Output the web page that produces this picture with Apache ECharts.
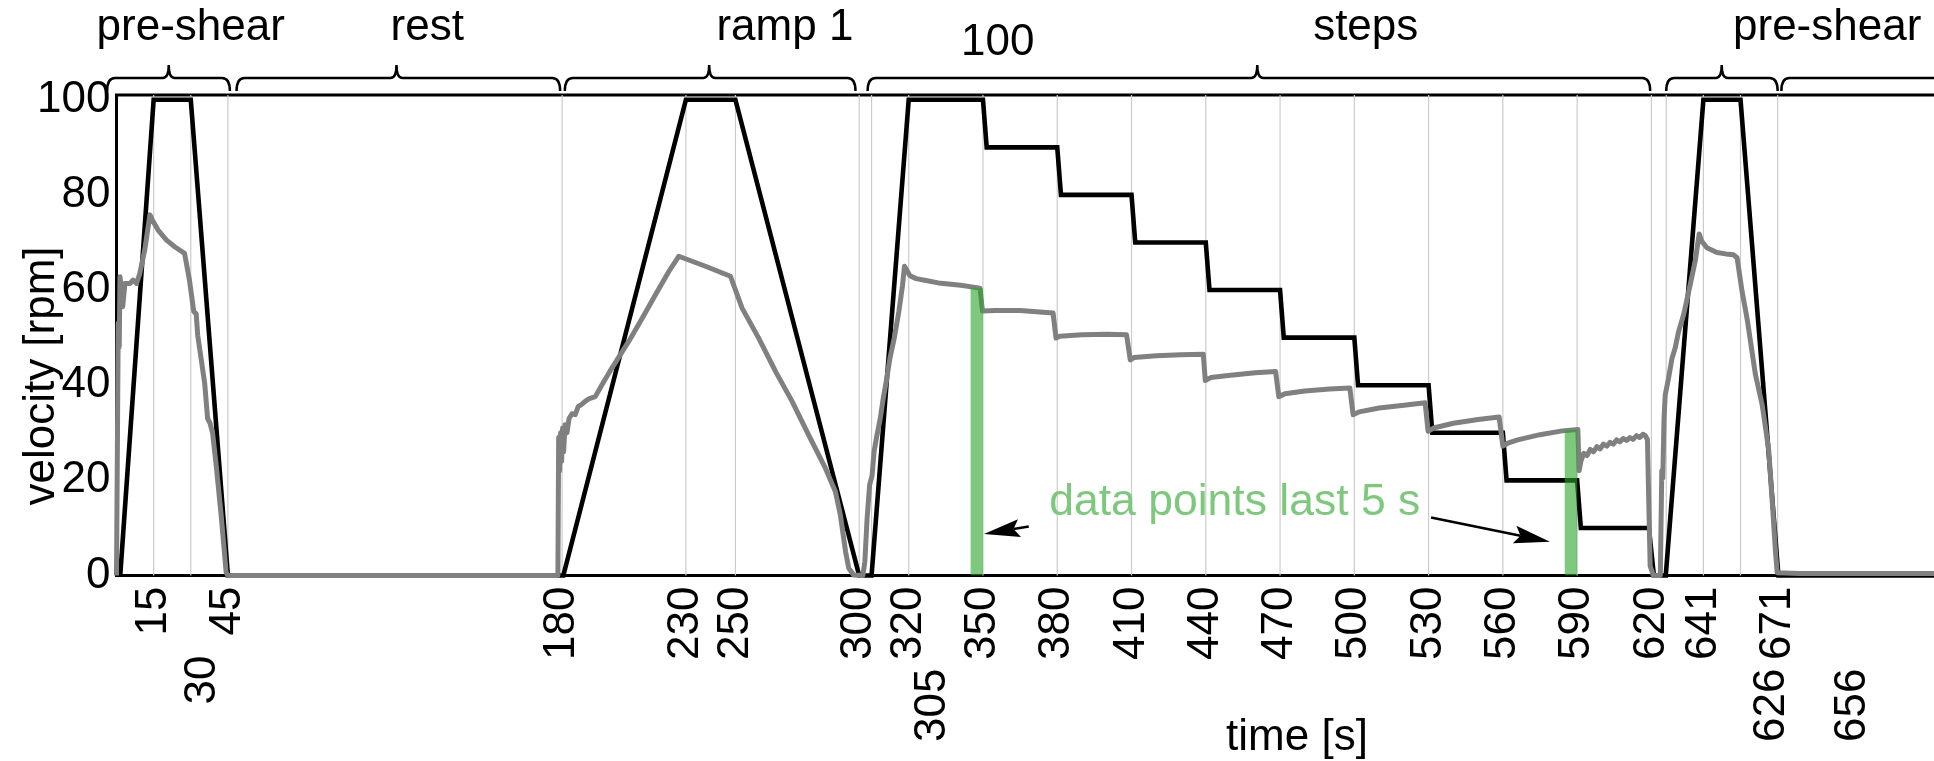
<!DOCTYPE html>
<html>
<head>
<meta charset="utf-8">
<script src="https://cdn.jsdelivr.net/npm/echarts@6/dist/echarts.min.js"></script>
<style>
  html, body { margin: 0; padding: 0; background: #fff; }
  #chart { width: 1934px; height: 761px; }
</style>
</head>
<body>
<div id="chart"></div>
<script>
// ---- data -------------------------------------------------------------
// time [s] / velocity [rpm]
const setpoint = [
  [1.5, 0], [15, 100], [30, 100], [45, 0],
  [180.5, 0], [230, 100], [250, 100], [300, 0],
  [305, 0], [320, 100], [350, 100], [351.5, 90], [380, 90], [381.5, 80],
  [410, 80], [411.5, 70], [440, 70], [441.5, 60], [470, 60], [471.5, 50],
  [500, 50], [501.5, 40], [530, 40], [531.5, 30], [560, 30], [561.5, 20],
  [590, 20], [591.5, 10], [619, 10], [621, 0],
  [625.8, 0], [641, 100], [656, 100], [671.3, 0], [739, 0]
];

const measured = [
  // pre-shear
  [0, 0], [0.4, 30], [0.7, 53], [1.1, 48], [1.4, 62.8], [2.0, 60.5], [2.5, 56.5],
  [3.4, 61.4], [5.4, 61.4], [6.7, 62.1], [8.1, 61.4], [9.4, 63.5], [11.4, 68.4],
  [13.5, 75.8], [14.8, 74.4], [16.8, 72.6], [20.2, 70.5], [23.5, 69.1],
  [27.5, 67.7], [28.3, 67.3], [29.5, 62], [31.2, 55.5], [32.2, 55], [32.8, 50.5],
  [35.6, 40.5], [36.8, 33], [37.8, 32], [38.8, 30], [40.3, 23], [42.3, 12.5],
  [44.3, 0.6], [45, 0],
  // rest
  [178.3, 0],
  // ramp 1
  [178.6, 29], [179.0, 22], [179.4, 30], [179.8, 24], [180.2, 31], [180.6, 26],
  [181.2, 31.7], [182, 30], [182.8, 33], [184, 34], [185.3, 33.8], [186.5, 35.5],
  [188, 36], [189.3, 36.6], [191, 37.2], [193.4, 37.6], [196.1, 40.1],
  [200.1, 43.6], [206.9, 49.2], [212.3, 54], [217.7, 59], [223.1, 63.9],
  [227.1, 67.1], [237.9, 65], [248, 62.9], [252.7, 56.2], [259.4, 49.9],
  [266.2, 42.9], [272.9, 36.6], [279.6, 29.5], [286.4, 22.5], [290.4, 17.6],
  [292.4, 12.7], [294.5, 5], [295.8, 1.5], [297.8, 0.1], [301.5, 0],
  // steps
  [302.3, 3], [303.2, 12], [304.2, 19], [305.2, 21], [306, 26], [307, 29],
  [308.5, 33], [309.7, 37.2], [311, 41], [312.4, 45.6], [314.2, 50], [316, 55.4],
  [317.5, 61], [318.3, 65], [319.2, 64.2], [320.5, 63], [323, 62.4], [327, 62],
  [332, 61.5], [341, 61], [348.8, 60.4], [349.8, 55.6], [355, 55.7], [365, 55.7],
  [378.3, 55.2], [379.5, 49.9], [381, 50.3], [390, 50.6], [400, 50.7],
  [408, 50.6], [409.5, 45.3], [411, 45.8], [420, 46.2], [430, 46.4], [439, 46.5],
  [439.8, 41], [442, 41.6], [450, 42.1], [460, 42.6], [468.2, 42.9],
  [469.5, 37.6], [472, 38.2], [480, 38.8], [490, 39.2], [498.2, 39.4],
  [499.5, 33.8], [502, 34.4], [510, 35.2], [520, 35.8], [528.6, 36.3],
  [529.8, 30.3], [532, 31], [540, 32], [550, 32.8], [558.5, 33.3],
  [560, 27.2], [562, 27.8], [566, 28.5], [575, 29.6], [584, 30.4], [590.3, 30.7],
  [590.8, 22], [591.5, 24], [592.7, 25.7], [594, 25.2], [595.3, 26.5],
  [596.6, 26], [598, 27.1], [599.3, 26.6], [600.6, 27.6], [602, 27.2],
  [603.3, 28], [604.6, 27.6], [606, 28.5], [607.3, 28.1], [608.6, 28.8],
  [610, 28.4], [611.3, 29], [612.6, 28.6], [614, 29.4], [615.3, 29],
  [616.6, 29.7], [617.5, 29.4], [618.4, 28.6], [619.5, 2], [620.8, 0], [623.6, 0],
  // pre-shear
  [624.2, 22], [624.6, 20.5], [625.1, 33], [625.6, 38], [626.9, 41.4],
  [628.3, 45.6], [629.6, 47.8], [631, 51.3], [633, 54.8], [635.7, 61.2],
  [637.7, 66.1], [639.3, 71.8], [640.3, 70.3], [642.4, 68.9], [646.5, 67.9],
  [650, 67.6], [653.2, 67.4], [654.6, 66.8], [656.6, 59.8], [658.3, 55],
  [658.8, 53.5], [660, 49.3], [662, 42.3], [664.7, 36], [666.1, 31.1],
  [667.4, 26.2], [668.8, 15.7], [670.1, 5.2], [670.8, 0.6], [680, 0.4], [739, 0.4]
];

// last 5 s of the 100 rpm and 20 rpm steps
const window100 = [[345, 60.6], [347.5, 60.5], [350, 60.4]];
const window20 = [[585, 30.4], [587.5, 30.6], [590, 30.7]];

// axis ticks
const yTicks = [0, 20, 40, 60, 80, 100];
const xTicksUpper = [15, 45, 180, 230, 250, 300, 320, 350, 380, 410, 440, 470,
                     500, 530, 560, 590, 620, 641, 671];
const xTicksLower = [30, 305, 626, 656];
const gridTimes = [15, 30, 45, 180, 230, 250, 300, 305, 320, 350, 380, 410, 440,
                   470, 500, 530, 560, 590, 620, 626, 641, 656, 671];

// protocol phases (braces along the top)
const braceStart = [-3.8, 48.5, 181.1, 303.4, 626, 672.5];
const braceEnd   = [45.8, 179.2, 298.5, 619.5, 671, 820];
const braceTip   = [21.1, 113.1, 239.4, 460.8, 648.4, 746];
const phaseNames = ['pre-shear', 'rest', 'ramp 1', '100', 'steps', 'pre-shear'];
const phaseNameT = [30, 125.5, 270, 356, 504.6, 691];
const phaseNameRow = [0, 0, 0, 1, 0, 0];

// annotation
const noteText = 'data points last 5 s';
const noteAt = [451.7, 15.2];
const arrowFrom = [[368.5, 10.3], [531, 12.2]];
const arrowTo   = [[350.4, 8.7], [579, 7.1]];

// ---- styling / layout ----------------------------------------------------
const FONT = "'Liberation Sans', Arial, Helvetica, sans-serif";
const FS = 44;
const X_MAX = 739, Y_MAX = 101;
const GREEN_TEXT = '#7dc87d';
const GREEN_FILL = 'rgba(40,165,40,0.6)';
const lowerShift = [12, 61, 106, 112];   // px, sideways offset of lower tick labels
const lowerGap = [80, 93, 93, 93];       // px below the axis

const chart = echarts.init(document.getElementById('chart'), null, { renderer: 'canvas' });

const option = {
  animation: false,
  backgroundColor: '#fff',
  grid: {
    left: 116.5, right: -12, top: 95, bottom: 185.5,
    show: true, borderColor: '#000', borderWidth: 3, backgroundColor: 'transparent',
    containLabel: false, outerBoundsMode: 'none'
  },
  xAxis: {
    type: 'value', min: 0, max: X_MAX,
    axisLine: { show: false }, axisTick: { show: false }, splitLine: { show: false },
    axisLabel: {
      customValues: xTicksUpper, rotate: 90, margin: 11,
      fontSize: FS, fontFamily: FONT, color: '#000'
    }
  },
  yAxis: {
    type: 'value', min: 0, max: Y_MAX, interval: 20,
    axisLine: { show: false }, axisTick: { show: false }, splitLine: { show: false },
    axisLabel: {
      margin: 6, padding: [13, 0, 0, 0],
      fontSize: FS, fontFamily: FONT, color: '#000',
      formatter: v => (yTicks.indexOf(v) >= 0 ? String(v) : '')
    }
  },
  series: [
    {
      // vertical reference lines at the protocol times
      type: 'custom', silent: true, z: 1,
      data: gridTimes.map(t => [t, 0]),
      renderItem: (params, api) => {
        const x = api.coord([api.value(0), 0])[0];
        const cs = params.coordSys;
        return {
          type: 'line',
          shape: { x1: x, y1: cs.y, x2: x, y2: cs.y + cs.height },
          style: { stroke: '#cccccc', lineWidth: 1.2 }
        };
      }
    },
    {
      // phase braces above the plot
      type: 'custom', silent: true, z: 5,
      data: braceStart.map((s, i) => [s, braceEnd[i], braceTip[i]]),
      renderItem: (params, api) => {
        const x0 = api.coord([api.value(0), 0])[0];
        const x1 = api.coord([api.value(1), 0])[0];
        const xm = api.coord([api.value(2), 0])[0];
        const top = params.coordSys.y;
        const yl = top - 17, ye = top - 4, yt = top - 30;
        const d = `M${x0},${ye} Q${x0},${yl} ${x0 + 8},${yl} L${xm - 6},${yl} ` +
                  `Q${xm},${yl} ${xm},${yt} Q${xm},${yl} ${xm + 6},${yl} ` +
                  `L${x1 - 8},${yl} Q${x1},${yl} ${x1},${ye}`;
        return {
          type: 'path',
          shape: { pathData: d },
          style: { fill: 'none', stroke: '#000', lineWidth: 2.5 }
        };
      }
    },
    {
      name: 'set velocity', type: 'line', data: setpoint, z: 2,
      symbol: 'none', showSymbol: false, clip: false,
      lineStyle: { color: '#000', width: 4.6, join: 'miter' }
    },
    {
      name: 'measured velocity', type: 'line', data: measured, z: 3,
      symbol: 'none', showSymbol: false, clip: false,
      lineStyle: { color: '#808080', width: 5, join: 'round' }
    },
    {
      type: 'line', data: window100, z: 4, symbol: 'none', showSymbol: false,
      lineStyle: { width: 0 }, areaStyle: { color: GREEN_FILL, opacity: 1 }
    },
    {
      type: 'line', data: window20, z: 4, symbol: 'none', showSymbol: false,
      lineStyle: { width: 0 }, areaStyle: { color: GREEN_FILL, opacity: 1 }
    }
  ]
};

chart.setOption(option);

function buildGraphics() {
  const toPx = (t, v) => chart.convertToPixel({ xAxisIndex: 0, yAxisIndex: 0 }, [t, v]);
  const axisY = toPx(0, 0)[1];
  const g = [];
  const txt = (text, x, y, extra) => Object.assign({
    type: 'text', x, y, silent: true, z: 10,
    style: Object.assign({
      text, fill: '#000', fontSize: FS, fontFamily: FONT,
      align: 'center', verticalAlign: 'middle'
    }, (extra && extra.style) || {})
  }, extra && extra.rotation != null ? { rotation: extra.rotation } : {});

  // phase names
  phaseNames.forEach((name, i) => {
    const x = toPx(phaseNameT[i], 0)[0];
    g.push(txt(name, x, phaseNameRow[i] ? 42.5 : 28));
  });

  // second row of time labels
  xTicksLower.forEach((t, i) => {
    const x = toPx(t, 0)[0] + lowerShift[i];
    g.push(txt(String(t), x, axisY + lowerGap[i],
      { rotation: Math.PI / 2, style: { align: 'right' } }));
  });

  // axis titles
  g.push(txt('velocity [rpm]', 42, 376, { rotation: Math.PI / 2 }));
  g.push(txt('time [s]', 1297, 738));

  // note and arrows
  const np = toPx(noteAt[0], noteAt[1]);
  g.push(txt(noteText, np[0], np[1], { style: { fill: GREEN_TEXT, fontSize: 44.5 } }));

  arrowFrom.forEach((from, i) => {
    const a = toPx(from[0], from[1]);
    const b = toPx(arrowTo[i][0], arrowTo[i][1]);
    const dx = b[0] - a[0], dy = b[1] - a[1];
    const len = Math.hypot(dx, dy);
    const ux = dx / len, uy = dy / len, nx = -uy, ny = ux;
    const L = 36, W = 9, notch = 6;
    const base = [b[0] - ux * L, b[1] - uy * L];
    const inner = [b[0] - ux * (L - notch), b[1] - uy * (L - notch)];
    g.push({
      type: 'line', silent: true, z: 10,
      shape: { x1: a[0], y1: a[1], x2: inner[0], y2: inner[1] },
      style: { stroke: '#000', lineWidth: 2.5 }
    });
    g.push({
      type: 'polygon', silent: true, z: 10,
      shape: { points: [b, [base[0] + nx * W, base[1] + ny * W], inner,
                        [base[0] - nx * W, base[1] - ny * W]] },
      style: { fill: '#000' }
    });
  });
  return g;
}

chart.setOption({ graphic: buildGraphics() });
</script>
</body>
</html>
